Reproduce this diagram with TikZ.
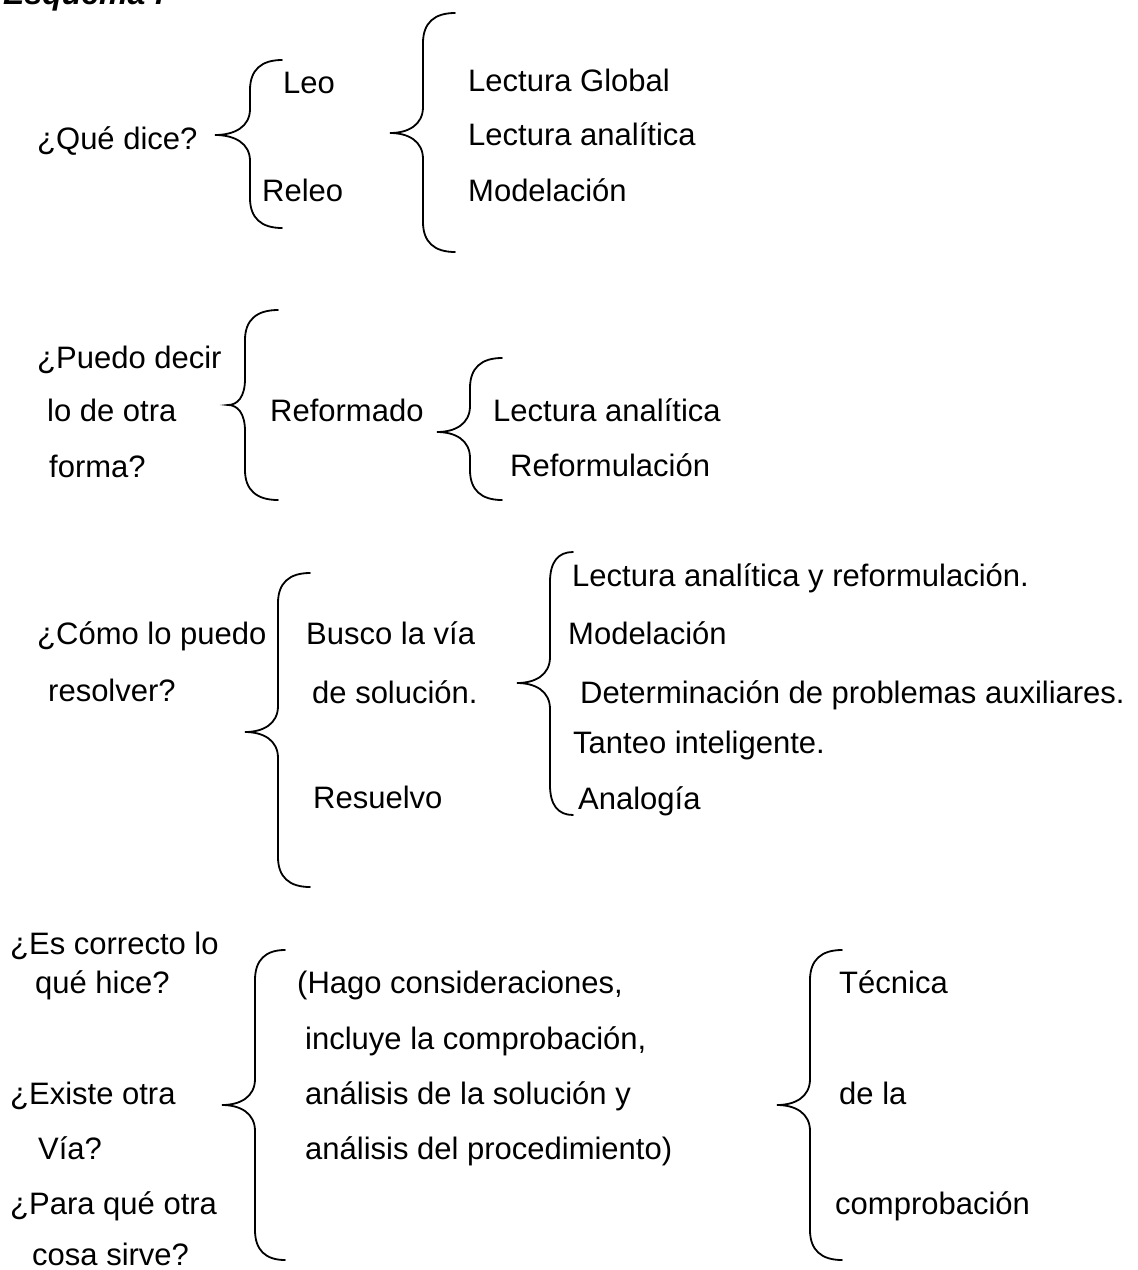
\documentclass[tikz,border=0pt]{standalone}
\usepackage{fontspec}
\setmainfont{Liberation Sans}
\begin{document}
\begin{tikzpicture}[x=1pt,y=-1pt,
  txt/.style={anchor=base west,inner sep=0pt,font=\fontsize{31}{37}\selectfont},
  bracestyle/.style={line width=1.8pt,line cap=round}]
\useasboundingbox (0,0) rectangle (1138,1270);
\newcommand\mybrace[6]{%
 \draw[bracestyle] (#4,#5) .. controls ({#3+0.35*(#4-#3)},#5) and (#3,{#5+10}) .. (#3,{#5+30})
  -- (#3,{#2-26}) .. controls (#3,{#2-8}) and ({#3-0.45*(#3-#1)},#2) .. (#1,#2)
  .. controls ({#3-0.45*(#3-#1)},#2) and (#3,{#2+8}) .. (#3,{#2+26})
  -- (#3,{#6-30}) .. controls (#3,{#6-10}) and ({#3+0.35*(#4-#3)},#6) .. (#4,#6);}
\begin{scope}
\clip (0,0) rectangle (1138,1270);
\node[anchor=base west,inner sep=0pt,font=\fontsize{32}{38}\selectfont\bfseries\itshape] (title) at (3,4) {Esquema :};
\end{scope}
% block 1
\node[txt] (q1) at (37,149) {¿Qué dice?};
\node[txt] (leo) at (283,93) {Leo};
\node[txt] (releo) at (262,201) {Releo};
\node[txt] (lg) at (468,91) {Lectura Global};
\node[txt] (la1) at (468,145) {Lectura analítica};
\node[txt] (mod1) at (468,201) {Modelación};
\mybrace{215}{135}{250}{282}{60}{228}
\mybrace{390}{133}{423}{455}{13}{252}
% block 2
\node[txt] (q2a) at (37,368) {¿Puedo decir};
\node[txt] (q2b) at (47,421) {lo de otra};
\node[txt] (q2c) at (49,477) {forma?};
\node[txt] (ref) at (270,421) {Reformado};
\node[txt] (la2) at (493,421) {Lectura analítica};
\node[txt] (refm) at (510,476) {Reformulación};
\mybrace{228}{405}{245}{278}{310}{500}
\mybrace{437}{432}{470}{502}{358}{500}
% block 3
\node[txt] (q3a) at (37,644) {¿Cómo lo puedo};
\node[txt] (q3b) at (48,701) {resolver?};
\node[txt] (busco) at (306,644) {Busco la vía};
\node[txt] (desol) at (312,703) {de solución.};
\node[txt] (resu) at (313,808) {Resuelvo};
\node[txt] (l31) at (572,586) {Lectura analítica y reformulación.};
\node[txt] (l32) at (568,644) {Modelación};
\node[txt] (l33) at (580,703) {Determinación de problemas auxiliares.};
\node[txt] (l34) at (573,753) {Tanteo inteligente.};
\node[txt] (l35) at (578,809) {Analogía};
\mybrace{245}{732}{278}{310}{573}{887}
\mybrace{517}{683}{550}{573}{552}{815}
% block 4
\node[txt] (q4a) at (10,954) {¿Es correcto lo};
\node[txt] (q4b) at (35,993) {qué hice?};
\node[txt] (q4c) at (10,1104) {¿Existe otra};
\node[txt] (q4d) at (38,1159) {Vía?};
\node[txt] (q4e) at (10,1214) {¿Para qué otra};
\node[txt] (q4f) at (32,1265) {cosa sirve?};
\node[txt] (h1) at (297,993) {(Hago consideraciones,};
\node[txt] (h2) at (305,1049) {incluye la comprobación,};
\node[txt] (h3) at (305,1104) {análisis de la solución y};
\node[txt] (h4) at (305,1159) {análisis del procedimiento)};
\node[txt] (t1) at (839,993) {Técnica};
\node[txt] (t2) at (839,1104) {de la};
\node[txt] (t3) at (835,1214) {comprobación};
\mybrace{222}{1105}{255}{285}{950}{1260}
\mybrace{777}{1105}{810}{842}{950}{1260}
\end{tikzpicture}
\end{document}
